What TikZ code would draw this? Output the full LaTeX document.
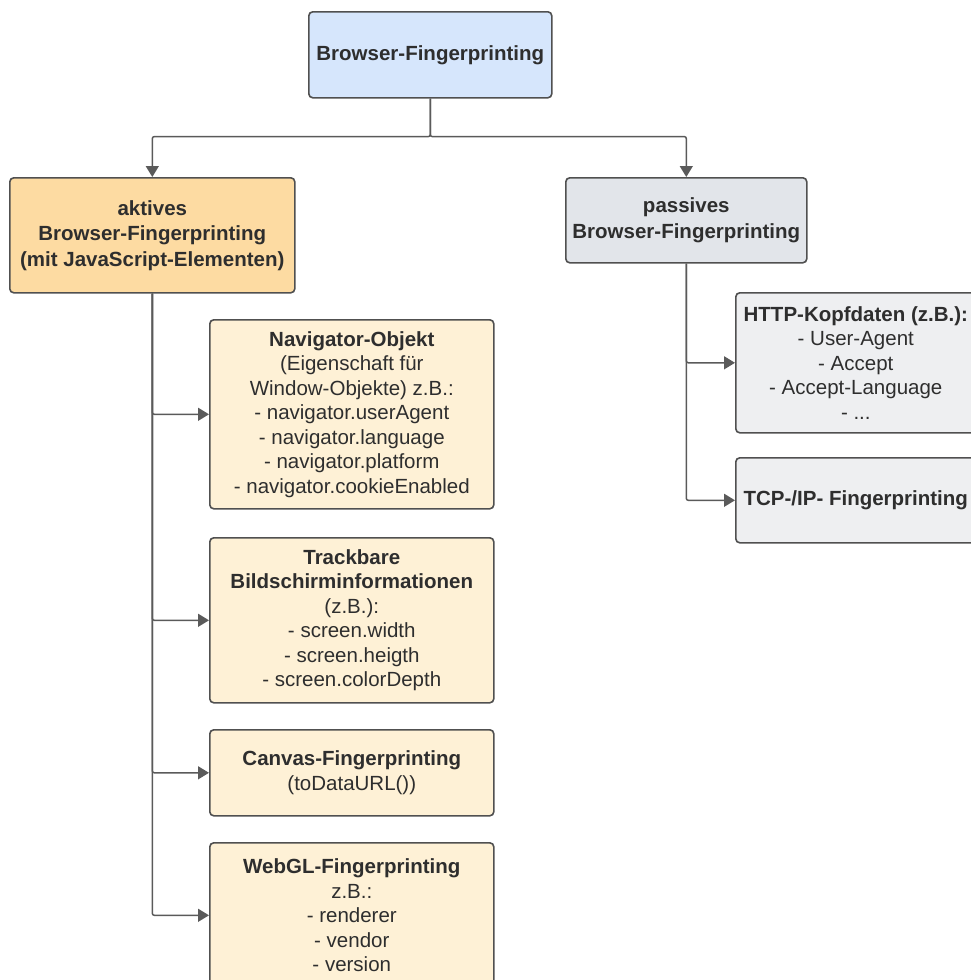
\documentclass[tikz,border=0pt]{standalone}
\usepackage{fontspec}
\setmainfont{Liberation Sans}
\usepackage{xcolor}
\definecolor{ink}{HTML}{2E2E2E}
\definecolor{edge}{HTML}{505050}
\definecolor{wire}{HTML}{5A5A5A}
\definecolor{skyfill}{HTML}{D6E6FC}
\definecolor{peach}{HTML}{FDDBA2}
\definecolor{cream}{HTML}{FEF1D6}
\definecolor{slate}{HTML}{E2E5EA}
\definecolor{mist}{HTML}{EEEFF1}
\usepackage{tikz}
\usetikzlibrary{arrows.meta}

\begin{document}
\begin{tikzpicture}[x=1pt,y=-1pt,
  box/.style={draw=edge, line width=1.6pt, rounded corners=4pt, anchor=north west,
    align=center, text=ink, inner sep=0pt, font=\fontsize{20.5}{24.5}\selectfont},
  head/.style={box, font=\fontsize{20.5}{25.5}\selectfont\bfseries},
  arr/.style={wire, line width=1.5pt, rounded corners=2pt, -{Triangle[length=11pt,width=13pt]}}]
  \useasboundingbox (0,0) rectangle (971,980);
  \clip (0,0) rectangle (971,980);
  % top level
  \node[head, fill=skyfill, minimum width=243pt, minimum height=86pt] (root) at (308,11) {Browser-Fingerprinting};
  \node[head, fill=peach, minimum width=285pt, minimum height=115pt] (aktiv) at (9,177)
    {aktives\\Browser-Fingerprinting\\(mit JavaScript-Elementen)};
  \node[head, fill=slate, minimum width=241pt, minimum height=85pt] (passiv) at (565,177)
    {passives\\Browser-Fingerprinting};
  % active branch
  \node[box, fill=cream, minimum width=284pt, minimum height=189pt] (nav) at (209,319)
    {\textbf{Navigator-Objekt}\\(Eigenschaft für\\Window-Objekte) z.B.:\\- navigator.userAgent\\
     - navigator.language\\- navigator.platform\\- navigator.cookieEnabled};
  \node[box, fill=cream, minimum width=284pt, minimum height=165pt] (screen) at (209,537)
    {\textbf{Trackbare}\\\textbf{Bildschirminformationen}\\(z.B.):\\- screen.width\\- screen.heigth\\- screen.colorDepth};
  \node[box, fill=cream, minimum width=284pt, minimum height=86pt] (canvas) at (209,729)
    {\textbf{Canvas-Fingerprinting}\\(toDataURL())};
  \node[box, fill=cream, minimum width=284pt, minimum height=145pt] (webgl) at (209,842)
    {\textbf{WebGL-Fingerprinting}\\z.B.:\\- renderer\\- vendor\\- version};
  % passive branch
  \node[box, fill=mist, minimum width=240pt, minimum height=140pt] (http) at (735,292)
    {\textbf{HTTP-Kopfdaten (z.B.):}\\- User-Agent\\- Accept\\- Accept-Language\\- ...};
  \node[box, fill=mist, minimum width=240pt, minimum height=85pt] (tcp) at (735,457)
    {\textbf{TCP-/IP- Fingerprinting}};
  % connectors
  \draw[arr] (root.south) -- ++(0,38) -| (aktiv.north);
  \draw[arr] (root.south) -- ++(0,38) -| (passiv.north);
  \foreach \b in {nav,screen,canvas,webgl}
    \draw[arr] (aktiv.south) |- (\b.west);
  \foreach \b in {http,tcp}
    \draw[arr] (passiv.south) |- (\b.west);
\end{tikzpicture}
\end{document}
